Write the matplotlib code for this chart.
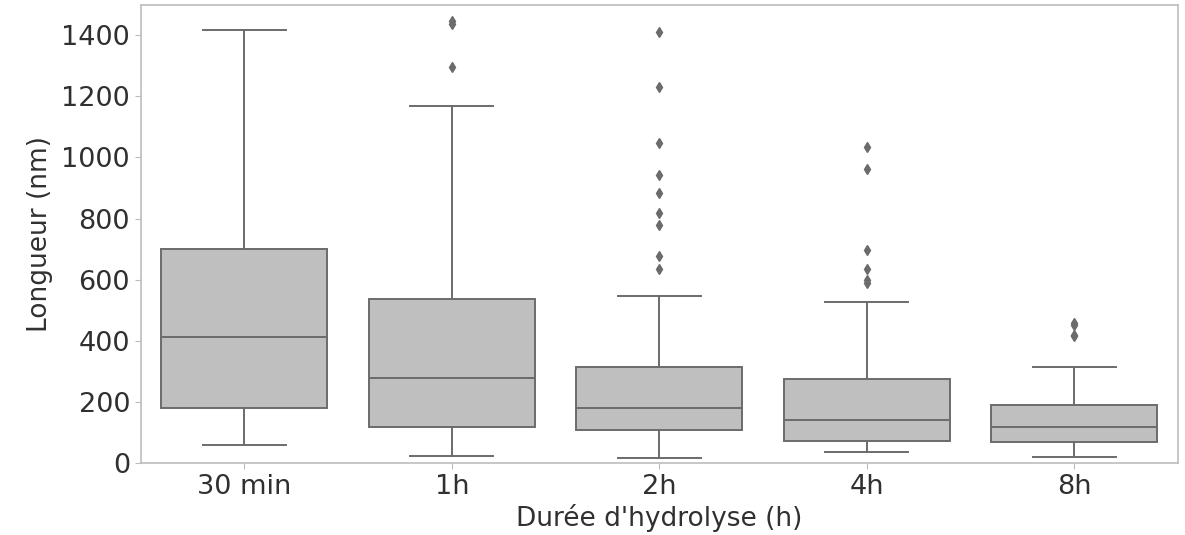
import matplotlib
matplotlib.use("Agg")
import matplotlib.pyplot as plt

durees = ["30 min", "1h", "2h", "4h", "8h"]
whislo = [61, 25, 16, 37, 22]
q1 = [180, 118, 108, 73, 71]
med = [413, 280, 182, 140, 119]
q3 = [701, 536, 316, 274, 190]
whishi = [1416, 1168, 547, 528, 316]
fliers = [
    [],
    [1445, 1436, 1296],
    [1410, 1229, 1048, 942, 884, 819, 778, 678, 635],
    [1035, 962, 696, 635, 598, 590],
    [460, 452, 421, 415],
]

stats = []
for i in range(len(durees)):
    stats.append({
        "label": durees[i],
        "whislo": whislo[i],
        "q1": q1[i],
        "med": med[i],
        "q3": q3[i],
        "whishi": whishi[i],
        "fliers": fliers[i],
    })

line_col = "#6b6b6b"
fig = plt.figure(figsize=(11.85, 5.35), dpi=100)
ax = fig.add_axes([0.1186, 0.134, 0.9941 - 0.1186, 0.990 - 0.134])

ax.bxp(stats, positions=range(len(durees)), widths=0.8, patch_artist=True,
       boxprops=dict(facecolor="#bfbfbf", edgecolor=line_col, linewidth=1.4),
       medianprops=dict(color=line_col, linewidth=1.4),
       whiskerprops=dict(color=line_col, linewidth=1.4),
       capprops=dict(color=line_col, linewidth=1.4),
       flierprops=dict(marker="d", markerfacecolor=line_col, markeredgecolor=line_col,
                       markersize=5))

ax.set_xlim(-0.5, 4.5)
ax.set_ylim(0, 1497)
ax.set_yticks([0, 200, 400, 600, 800, 1000, 1200, 1400])

for s in ax.spines.values():
    s.set_color("#bdbdbd")
    s.set_linewidth(1.2)
ax.tick_params(colors="#bdbdbd", labelcolor="#303030", labelsize=19.5, length=4)
ax.set_xlabel("Durée d'hydrolyse (h)", fontsize=19, color="#303030", labelpad=3)
ax.set_ylabel("Longueur (nm)", fontsize=19, color="#303030", labelpad=6)

fig.savefig("out.png", dpi=100)
